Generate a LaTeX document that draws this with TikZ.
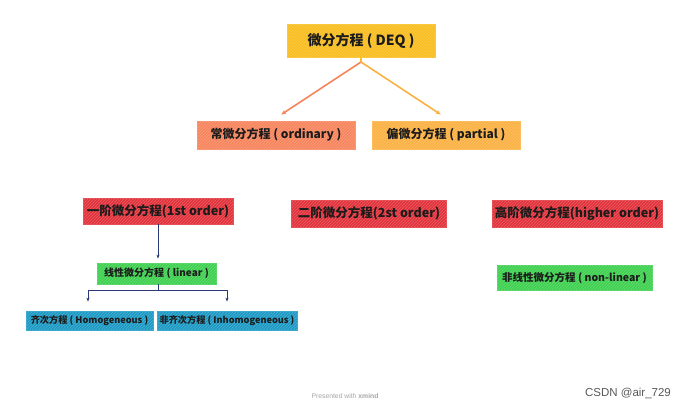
\documentclass[tikz,border=0pt]{standalone}
\usepackage{fontspec}
\setmainfont{Noto Sans CJK SC}
\newfontfamily\marksans{Liberation Sans}
\usetikzlibrary{arrows.meta,patterns}
\definecolor{deqc}{HTML}{F8BD1E}
\definecolor{ordc}{HTML}{F7845C}
\definecolor{parc}{HTML}{FBB142}
\definecolor{redc}{HTML}{E2323B}
\definecolor{grnc}{HTML}{3DD04F}
\definecolor{bluc}{HTML}{1B9AC4}
\definecolor{navyc}{HTML}{2A3A78}
\definecolor{txtc}{HTML}{1C1C1C}
\begin{document}
\begin{tikzpicture}[x=1pt,y=-1pt,line width=.5pt,
  box/.style={draw=#1!85!white,line width=.8pt,preaction={fill=#1},pattern=north east lines,pattern color=white!22!#1,
    anchor=center,inner sep=0pt,text=txtc},
  arw/.style={-{Stealth[length=5pt,width=4pt]},line width=1.6pt,line cap=round},
  lnk/.style={-{Stealth[length=4pt,width=3pt]},line width=.8pt,draw=navyc}]
\path[use as bounding box,fill=white] (0,0) rectangle (690,410);
\node[box=deqc,minimum width=148,minimum height=33,font=\bfseries\fontsize{14}{16}\selectfont] (deq) at (361,41) {微分方程 ( DEQ )};
\node[box=ordc,minimum width=158,minimum height=28,font=\bfseries\fontsize{12}{14}\selectfont] (ord) at (276,135) {常微分方程 ( ordinary )};
\node[box=parc,minimum width=148,minimum height=28,font=\bfseries\fontsize{12}{14}\selectfont] (par) at (446,135) {偏微分方程 ( partial )};
\node[box=redc,minimum width=150,minimum height=26,font=\bfseries\fontsize{12.5}{14}\selectfont] (first) at (158,211) {一阶微分方程(1st order)};
\node[box=redc,minimum width=155,minimum height=27,font=\bfseries\fontsize{12.5}{14}\selectfont] (second) at (369,213.5) {二阶微分方程(2st order)};
\node[box=redc,minimum width=170,minimum height=27,font=\bfseries\fontsize{12.5}{14}\selectfont] (higher) at (577,213.5) {高阶微分方程(higher order)};
\node[box=grnc,minimum width=119,minimum height=21,font=\bfseries\fontsize{10}{12}\selectfont] (lin) at (156.5,273.5) {线性微分方程 ( linear )};
\node[box=grnc,minimum width=155,minimum height=25,font=\bfseries\fontsize{10.5}{12}\selectfont] (nonlin) at (574.5,277.5) {非线性微分方程 ( non-linear )};
\node[box=bluc,minimum width=127,minimum height=19,font=\bfseries\fontsize{9.2}{11}\selectfont] (homo) at (89.5,320.5) {齐次方程 ( Homogeneous )};
\node[box=bluc,minimum width=140,minimum height=19,font=\bfseries\fontsize{9.2}{11}\selectfont] (inhomo) at (227,320.5) {非齐次方程 ( Inhomogeneous )};
% DEQ fork
\coordinate (fork) at (361,62);
\draw[line width=1.6pt,draw=deqc] (deq.south) -- (fork);
\draw[arw,draw=ordc,fill=ordc,shorten >=11pt] (fork) -- ([xshift=-4pt]ord.north);
\draw[arw,draw=parc,fill=parc,shorten >=11pt] (fork) -- ([xshift=4pt]par.north);
% first order to linear
\draw[lnk,shorten >=4pt] (first.south) -- ([xshift=1.5pt]lin.north);
\coordinate (split) at (158,290);
\draw[line width=.8pt,draw=navyc] ([xshift=1.5pt]lin.south) -- (split);
\draw[lnk,shorten >=9pt] (split) -| ([xshift=-1.5pt]homo.north);
\draw[lnk,shorten >=9pt] (split) -| (inhomo.north);
% footer
\node[anchor=center,inner sep=0pt,text=black!35,font=\marksans\fontsize{6.8}{8}\selectfont] (pres) at (345,396) {Presented with \textbf{xmind}};
\node[anchor=center,inner sep=0pt,text=black!65,font=\marksans\fontsize{11.5}{13}\selectfont] (mark) at (628,393) {CSDN @air\_729};
\end{tikzpicture}
\end{document}
